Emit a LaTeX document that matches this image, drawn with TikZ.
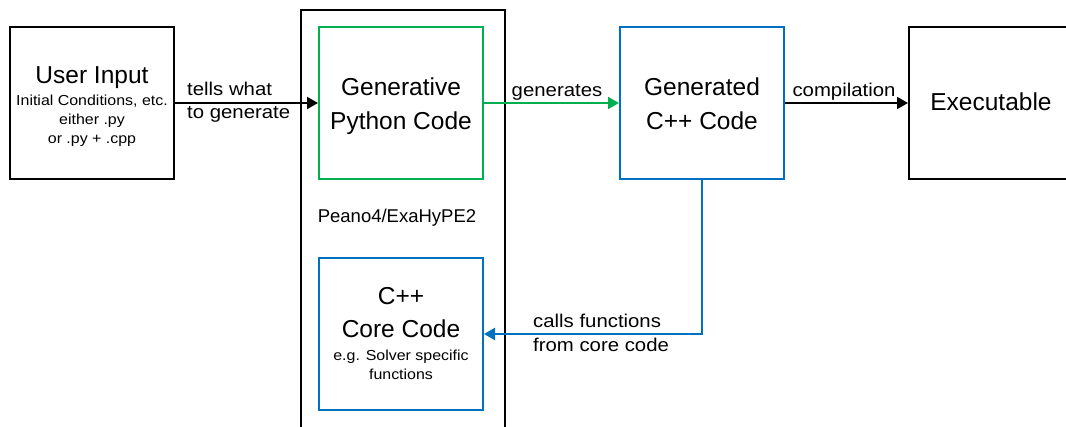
\documentclass[tikz,border=0pt]{standalone}
\usepackage{fontspec}
\setmainfont{Liberation Sans}
\newfontfamily\widef{Liberation Sans}[FakeStretch=1.1]
\usetikzlibrary{arrows.meta}
\definecolor{pgreen}{HTML}{00B050}
\definecolor{pblue}{HTML}{0070C0}
\newcommand{\bigf}{\fontsize{24.5}{30}\selectfont}
\newcommand{\smallf}{\widef\fontsize{14.5}{19}\selectfont}
\newcommand{\midf}{\widef\fontsize{18.5}{24}\selectfont}
\newcommand{\plainmidf}{\fontsize{18.5}{24}\selectfont}
\begin{document}
\begin{tikzpicture}[x=1pt,y=-1pt,
  box/.style={draw,line width=2pt,minimum width=164pt,minimum height=152pt,inner sep=0pt},
  arr/.style={line width=2pt,-{Triangle[length=11pt,width=12pt]}},
  tb/.style={font=\bigf,inner sep=0pt,anchor=base},
  ts/.style={font=\smallf,inner sep=0pt,anchor=base},
  lbl/.style={font=\midf,inner sep=0pt,anchor=base},
  lbw/.style={font=\midf,inner sep=0pt,anchor=base west}
]
\clip (0,0) rectangle (1066,427);
\fill[white] (0,0) rectangle (1066,427);
% container
\node[draw,line width=2pt,minimum width=204pt,minimum height=440pt,inner sep=0pt] (peano) at (403,230) {};
% boxes
\node[box] (user) at (92,103) {};
\node[box,draw=pgreen] (python) at (401,103) {};
\node[box,draw=pblue] (gen) at (702,103) {};
\node[box] (exe) at (991,103) {};
\node[box,draw=pblue] (core) at (401,334) {};
% box texts
\node[tb] (u1) at (92,84) {User Input};
\node[ts] (u2) at (92,106) {Initial Conditions, etc.};
\node[ts] (u3) at (92,125) {either .py};
\node[ts] (u4) at (92,144) {or .py + .cpp};
\node[tb] (p1) at (401,96) {Generative};
\node[tb] (p2) at (401,130) {Python Code};
\node[tb] (g1) at (702,96) {Generated};
\node[tb] (g2) at (702,130) {C++ Code};
\node[tb] (e1) at (991,111) {Executable};
\node[tb] (c1) at (401,305) {C++};
\node[tb] (c2) at (401,338) {Core Code};
\node[ts] (c3) at (401,361) {e.g. Solver specific};
\node[ts] (c4) at (401,380) {functions};
\node[lbl,font=\plainmidf] (plabel) at (397,223) {Peano4/ExaHyPE2};
% connectors
\draw[arr] (user.east) -- (python.west);
\draw[arr,pgreen] (python.east) -- (gen.west);
\draw[arr] (gen.east) -- (exe.west);
\coordinate (bend) at (702,334);
\draw[arr,pblue] (gen.south) -- (bend) -- (core.east);
% labels
\node[lbw] (l1a) at (187,96) {tells what};
\node[lbw] (l1b) at (187,119) {to generate};
\node[lbl] (l2) at (557,97) {generates};
\node[lbl] (l3) at (844,97) {compilation};
\node[lbw] (l4a) at (533,328) {calls functions};
\node[lbw] (l4b) at (533,352) {from core code};
\end{tikzpicture}
\end{document}
